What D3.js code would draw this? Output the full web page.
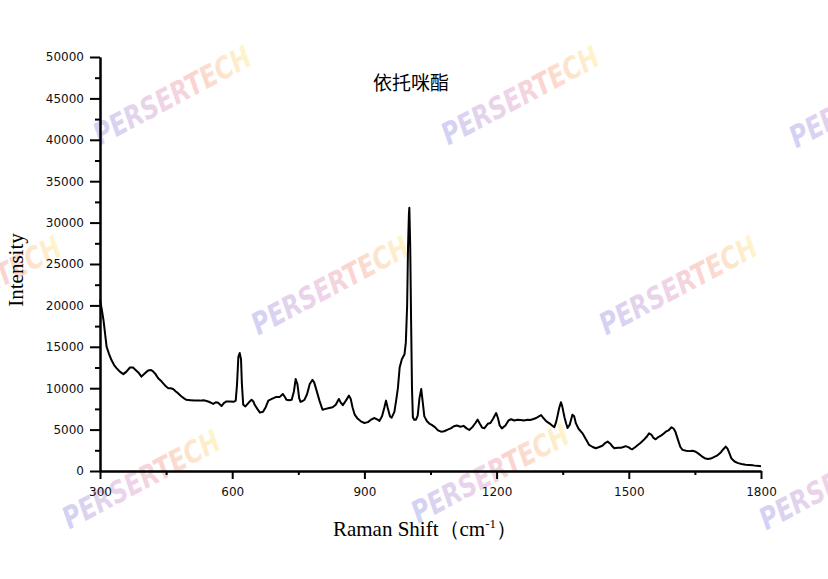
<!DOCTYPE html>
<html><head><meta charset="utf-8">
<script src="https://cdn.jsdelivr.net/npm/d3@7"></script>
<style>body{margin:0;background:#fff}svg{display:block}</style>
</head><body>
<svg id="chart" width="828" height="579"></svg>
<script>
const title = "依托咪酯";
const xLabel = "Raman Shift（cm";
const yLabel = "Intensity";
const xTicks = [300, 600, 900, 1200, 1500, 1800];
const yTicks = [0, 5000, 10000, 15000, 20000, 25000, 30000, 35000, 40000, 45000, 50000];
const shift = [300,304,308,315,320,326,332,338,345,353,360,368,375,379,387,394,402,409,416,421,426,432,440,448,455,460,466,472,477,485,490,496,505,515,527,535,542,550,557,563,568,576,581,587,595,603,608,611,614,617,620,622,625,630,638,644,648,651,657,663,670,676,682,690,700,708,715,720,723,730,735,740,744,748,752,755,760,764,770,776,782,786,791,798,805,812,820,828,835,842,846,851,858,865,869,873,878,885,892,900,908,915,923,930,934,940,945,949,953,958,962,968,972,976,980,985,991,994,997,999,1001,1002,1004,1006,1008,1010,1013,1017,1021,1025,1029,1032,1036,1042,1048,1052,1060,1067,1074,1081,1089,1096,1103,1110,1118,1125,1132,1138,1145,1152,1157,1162,1167,1172,1180,1186,1192,1199,1203,1207,1212,1220,1227,1233,1240,1248,1255,1262,1270,1276,1282,1290,1296,1301,1306,1313,1320,1326,1331,1335,1338,1342,1346,1349,1354,1358,1361,1366,1372,1376,1380,1386,1395,1402,1410,1418,1425,1433,1440,1447,1452,1458,1463,1467,1475,1482,1488,1493,1500,1505,1508,1515,1522,1527,1533,1540,1546,1551,1556,1561,1567,1574,1580,1584,1590,1597,1602,1606,1612,1617,1622,1630,1637,1645,1652,1658,1665,1672,1680,1686,1692,1700,1708,1714,1720,1724,1728,1733,1740,1748,1756,1765,1773,1782,1790,1796,1800];
const intensity = [20700,19500,18200,15000,14200,13400,12800,12400,12000,11700,12000,12500,12500,12300,11900,11400,11800,12150,12200,12000,11700,11200,10800,10300,10000,10000,9900,9600,9400,9000,8800,8600,8550,8500,8500,8550,8450,8300,8100,8300,8250,7850,8200,8400,8400,8350,8500,10500,13800,14250,13500,10500,8000,7800,8300,8600,8400,8000,7500,7050,7150,7700,8500,8700,8950,8950,9300,8900,8600,8550,8600,9600,11100,10500,8800,8350,8450,8600,9300,10500,11000,10700,9800,8500,7400,7500,7600,7700,8000,8700,8300,7950,8500,9100,8700,7700,6800,6300,6000,5800,5900,6200,6400,6200,6050,6600,7600,8500,7600,6600,6450,7150,8500,10000,12500,13500,14100,15500,20000,27000,31000,31800,27000,18000,10000,6500,6200,6200,6700,8800,9900,8500,6600,6000,5700,5600,5300,4900,4750,4800,5000,5150,5400,5500,5350,5450,5150,4950,5300,5800,6200,5700,5250,5150,5700,5800,6300,7000,6400,5500,5150,5500,6100,6250,6100,6200,6150,6100,6200,6150,6250,6400,6600,6750,6400,6000,5750,5500,5300,5900,6600,7600,8300,7800,6500,5700,5200,5600,6800,6600,5750,5100,4550,3900,3150,2900,2750,2900,3050,3400,3550,3300,2950,2750,2800,2800,2900,3000,2850,2650,2620,2900,3200,3420,3700,4100,4550,4400,4000,3830,4100,4300,4550,4750,4900,5280,5100,4700,3700,2900,2550,2450,2400,2450,2330,2100,1800,1550,1450,1500,1650,1850,2200,2600,2950,2700,2200,1500,1150,950,850,750,720,680,620,600,580];
const watermarkText = "PERSERTECH";
const watermarkCentres = [[172,95],[520,95],[868,98],[-18,285],[330,285],[678,285],[141,479],[490,473],[838,480]];

const svg = d3.select("#chart");
const x = d3.scaleLinear().domain([300, 1800]).range([100, 761]);
const y = d3.scaleLinear().domain([0, 50000]).range([471, 57]);

// watermarks
const defs = svg.append("defs");
const grad = defs.append("linearGradient").attr("id", "wm").attr("x1", "0%").attr("x2", "100%").attr("y1", "0%").attr("y2", "0%");
grad.append("stop").attr("offset", "0%").attr("stop-color", "#b4b4ee");
grad.append("stop").attr("offset", "45%").attr("stop-color", "#e6b8d8");
grad.append("stop").attr("offset", "65%").attr("stop-color", "#f8b8b0");
grad.append("stop").attr("offset", "100%").attr("stop-color", "#fff0a8");
svg.append("g").selectAll("text").data(watermarkCentres).join("text")
  .attr("transform", d => `translate(${d[0]},${d[1]}) rotate(-28)`)
  .attr("x", -87).attr("y", 11)
  .attr("textLength", 174).attr("lengthAdjust", "spacingAndGlyphs")
  .attr("font-family", "DejaVu Sans").attr("font-weight", "bold").attr("font-style", "italic")
  .attr("font-size", 30).attr("fill", "url(#wm)").attr("opacity", 0.6)
  .text(watermarkText);

// axes
const minorY = d3.range(2500, 50000, 5000);
const minorX = d3.range(450, 1800, 300);
const gy = svg.append("g").attr("transform", "translate(100,0)");
gy.call(d3.axisLeft(y).tickValues(yTicks).tickSize(10).tickSizeOuter(0).tickPadding(6).tickFormat(d3.format("d")));
gy.append("g").call(d3.axisLeft(y).tickValues(minorY).tickSize(5).tickSizeOuter(0).tickFormat(""));
const gx = svg.append("g").attr("transform", "translate(0,471)");
gx.call(d3.axisBottom(x).tickValues(xTicks).tickSize(8).tickSizeOuter(0).tickPadding(8).tickFormat(d3.format("d")));
gx.append("g").call(d3.axisBottom(x).tickValues(minorX).tickSize(4).tickSizeOuter(0).tickFormat(""));
svg.selectAll(".domain").attr("stroke", "#000").attr("stroke-width", 2);
svg.selectAll(".tick line").attr("stroke", "#000").attr("stroke-width", 2);
svg.selectAll(".tick text").attr("font-family", "DejaVu Sans").attr("font-size", 12).attr("fill", "#111");

// spectrum
const data = shift.map((s, i) => [s, intensity[i]]);
svg.append("path").datum(data)
  .attr("fill", "none").attr("stroke", "#000").attr("stroke-width", 2).attr("stroke-linejoin", "round")
  .attr("d", d3.line().x(d => x(d[0])).y(d => y(d[1])));

// titles
svg.append("text").attr("x", 411).attr("y", 90).attr("text-anchor", "middle")
  .attr("font-family", "Noto Sans CJK SC").attr("font-size", 19).attr("fill", "#000").text(title);
const xl = svg.append("text").attr("x", 425).attr("y", 536).attr("text-anchor", "middle")
  .attr("font-family", "Liberation Serif").attr("font-size", 21).attr("fill", "#000");
xl.append("tspan").text(xLabel);
xl.append("tspan").attr("dy", -8).attr("font-size", 13).text("-1");
xl.append("tspan").attr("dy", 8).text("）");
svg.append("text").attr("transform", "translate(23,270) rotate(-90)").attr("text-anchor", "middle")
  .attr("font-family", "Liberation Serif").attr("font-size", 21).attr("fill", "#000").text(yLabel);
</script>
</body></html>
